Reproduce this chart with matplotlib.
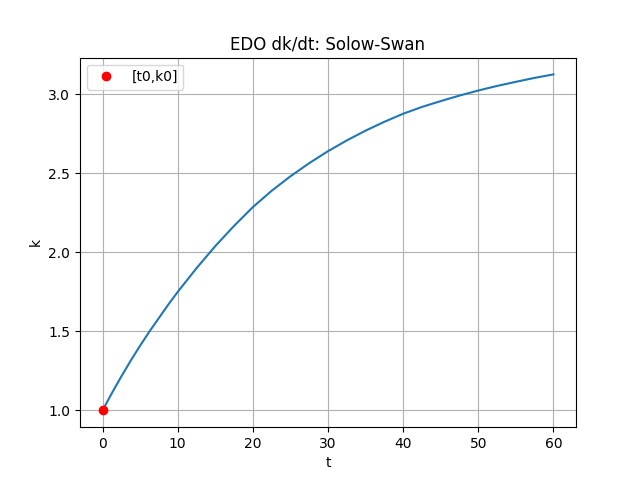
import numpy as np
import matplotlib
matplotlib.use("Agg")
import matplotlib.pyplot as plt

# values
t = [0, 1.25, 2.5, 3.75, 5, 6.25, 7.5, 8.75, 10, 12.5, 15, 17.5, 20, 22.5, 25,
     27.5, 30, 32.5, 35, 37.5, 40, 42.5, 45, 47.5, 50, 52.5, 55, 57.5, 60]
k = [1.0, 1.11, 1.215, 1.315, 1.41, 1.5, 1.585, 1.67, 1.75, 1.90, 2.04, 2.168, 2.287,
     2.39, 2.482, 2.565, 2.641, 2.709, 2.771, 2.827, 2.878, 2.921, 2.958, 2.993,
     3.025, 3.054, 3.08, 3.105, 3.127]

t0 = 0
k0 = 1.0

plt.figure()
plt.plot(t, k)
plt.plot(t0, k0, 'ro', label='[t0,k0]')
plt.title('EDO dk/dt: Solow-Swan')
plt.xlabel('t')
plt.ylabel('k')
plt.legend(loc='upper left')
plt.grid()
plt.savefig('out.png')
